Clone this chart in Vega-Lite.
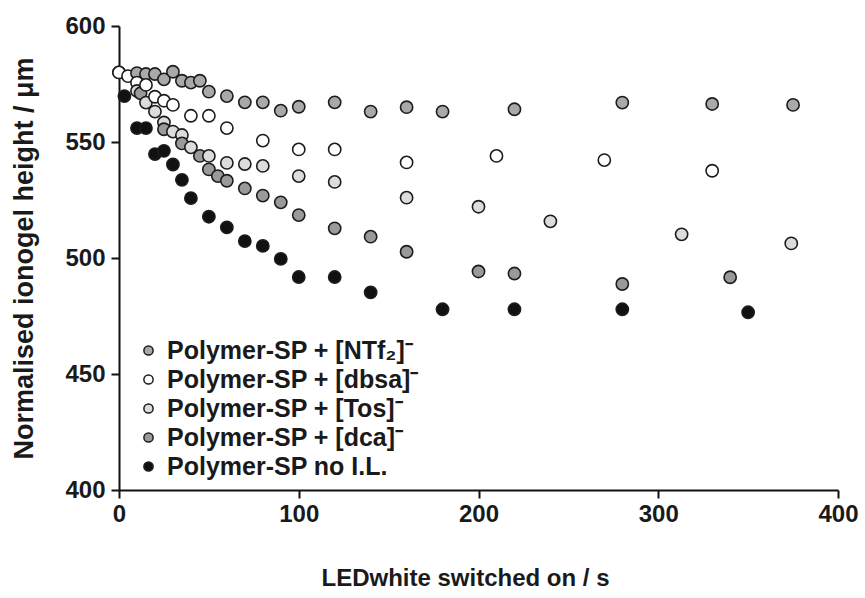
{
  "$schema": "https://vega.github.io/schema/vega-lite/v6.json",
  "width": 719,
  "height": 464,
  "autosize": {"type": "none"},
  "padding": {"left": 119, "top": 26, "right": 27, "bottom": 108},
  "background": "white",
  "config": {
    "view": {"stroke": null},
    "font": "Liberation Sans",
    "axis": {
      "grid": false,
      "domainColor": "#111",
      "domainWidth": 2,
      "tickColor": "#111",
      "tickWidth": 2,
      "tickSize": 8,
      "labelFont": "Liberation Sans",
      "labelFontSize": 24,
      "labelFontWeight": "bold",
      "labelColor": "#1a1a1a",
      "titleFont": "Liberation Sans",
      "titleFontSize": 24,
      "titleFontWeight": "bold",
      "titleColor": "#1a1a1a"
    }
  },
  "data": {
    "values": [
      {"series": "NTf2", "t": 0, "h": 580},
      {"series": "NTf2", "t": 10, "h": 579.7},
      {"series": "NTf2", "t": 15, "h": 579.3},
      {"series": "NTf2", "t": 20, "h": 579.3},
      {"series": "NTf2", "t": 25, "h": 577},
      {"series": "NTf2", "t": 30, "h": 580.3},
      {"series": "NTf2", "t": 35, "h": 576.4},
      {"series": "NTf2", "t": 40, "h": 575.6},
      {"series": "NTf2", "t": 45, "h": 576.4},
      {"series": "NTf2", "t": 50, "h": 571.7},
      {"series": "NTf2", "t": 60, "h": 569.8},
      {"series": "NTf2", "t": 70, "h": 567.1},
      {"series": "NTf2", "t": 80, "h": 567.1},
      {"series": "NTf2", "t": 90, "h": 563.5},
      {"series": "NTf2", "t": 100, "h": 565.2},
      {"series": "NTf2", "t": 120, "h": 567.1},
      {"series": "NTf2", "t": 140, "h": 563.1},
      {"series": "NTf2", "t": 160, "h": 565},
      {"series": "NTf2", "t": 180, "h": 563.1},
      {"series": "NTf2", "t": 220, "h": 564.1},
      {"series": "NTf2", "t": 280, "h": 567},
      {"series": "NTf2", "t": 330, "h": 566.4},
      {"series": "NTf2", "t": 375, "h": 566},
      {"series": "dbsa", "t": 0, "h": 580},
      {"series": "dbsa", "t": 5, "h": 578.4},
      {"series": "dbsa", "t": 10, "h": 575.6},
      {"series": "dbsa", "t": 15, "h": 574.6},
      {"series": "dbsa", "t": 20, "h": 569.5},
      {"series": "dbsa", "t": 25, "h": 567.8},
      {"series": "dbsa", "t": 30, "h": 566},
      {"series": "dbsa", "t": 40, "h": 561.3},
      {"series": "dbsa", "t": 50, "h": 561.3},
      {"series": "dbsa", "t": 60, "h": 556},
      {"series": "dbsa", "t": 80, "h": 550.6},
      {"series": "dbsa", "t": 100, "h": 546.8},
      {"series": "dbsa", "t": 120, "h": 546.8},
      {"series": "dbsa", "t": 160, "h": 541.2},
      {"series": "dbsa", "t": 210, "h": 544},
      {"series": "dbsa", "t": 270, "h": 542.2},
      {"series": "dbsa", "t": 330, "h": 537.6},
      {"series": "Tos", "t": 10, "h": 572},
      {"series": "Tos", "t": 15, "h": 567},
      {"series": "Tos", "t": 20, "h": 563.1},
      {"series": "Tos", "t": 25, "h": 558.4},
      {"series": "Tos", "t": 30, "h": 554.5},
      {"series": "Tos", "t": 35, "h": 553},
      {"series": "Tos", "t": 40, "h": 547.7},
      {"series": "Tos", "t": 50, "h": 544},
      {"series": "Tos", "t": 60, "h": 541},
      {"series": "Tos", "t": 70, "h": 540.5},
      {"series": "Tos", "t": 80, "h": 539.7},
      {"series": "Tos", "t": 100, "h": 535.3},
      {"series": "Tos", "t": 120, "h": 532.8},
      {"series": "Tos", "t": 160, "h": 526},
      {"series": "Tos", "t": 200, "h": 522.1},
      {"series": "Tos", "t": 240, "h": 515.8},
      {"series": "Tos", "t": 313, "h": 510.2},
      {"series": "Tos", "t": 374, "h": 506.3},
      {"series": "dca", "t": 12, "h": 571},
      {"series": "dca", "t": 25, "h": 555.5},
      {"series": "dca", "t": 35, "h": 549.4},
      {"series": "dca", "t": 45, "h": 544},
      {"series": "dca", "t": 50, "h": 538.2},
      {"series": "dca", "t": 55, "h": 535.3},
      {"series": "dca", "t": 60, "h": 533.3},
      {"series": "dca", "t": 70, "h": 530},
      {"series": "dca", "t": 80, "h": 526.9},
      {"series": "dca", "t": 90, "h": 524},
      {"series": "dca", "t": 100, "h": 518.5},
      {"series": "dca", "t": 120, "h": 512.8},
      {"series": "dca", "t": 140, "h": 509.2},
      {"series": "dca", "t": 160, "h": 502.7},
      {"series": "dca", "t": 200, "h": 494.2},
      {"series": "dca", "t": 220, "h": 493.3},
      {"series": "dca", "t": 280, "h": 488.8},
      {"series": "dca", "t": 340, "h": 491.7},
      {"series": "none", "t": 3, "h": 569.8},
      {"series": "none", "t": 10, "h": 556},
      {"series": "none", "t": 15, "h": 556},
      {"series": "none", "t": 20, "h": 544.8},
      {"series": "none", "t": 25, "h": 546.2},
      {"series": "none", "t": 30, "h": 540.3},
      {"series": "none", "t": 35, "h": 533.7},
      {"series": "none", "t": 40, "h": 525.8},
      {"series": "none", "t": 50, "h": 517.8},
      {"series": "none", "t": 60, "h": 513.2},
      {"series": "none", "t": 70, "h": 507.3},
      {"series": "none", "t": 80, "h": 505.2},
      {"series": "none", "t": 90, "h": 499.6},
      {"series": "none", "t": 100, "h": 491.8},
      {"series": "none", "t": 120, "h": 491.8},
      {"series": "none", "t": 140, "h": 485.2},
      {"series": "none", "t": 180, "h": 477.9},
      {"series": "none", "t": 220, "h": 477.9},
      {"series": "none", "t": 280, "h": 477.9},
      {"series": "none", "t": 350, "h": 476.6}
    ]
  },
  "mark": {"type": "point", "shape": "circle", "filled": true, "size": 150, "stroke": "#1c1c1c", "strokeWidth": 1.6, "opacity": 1},
  "encoding": {
    "x": {
      "field": "t", "type": "quantitative",
      "scale": {"domain": [0, 400], "nice": false, "zero": false},
      "axis": {"values": [0, 100, 200, 300, 400], "title": "LEDwhite switched on / s", "labelPadding": 4, "titlePadding": 40, "titleX": 346, "labelFlush": false}
    },
    "y": {
      "field": "h", "type": "quantitative",
      "scale": {"domain": [400, 600], "nice": false, "zero": false},
      "axis": {"values": [400, 450, 500, 550, 600], "title": "Normalised ionogel height / μm", "titleFontSize": 27, "labelPadding": 6, "titlePadding": 26, "labelFlush": false}
    },
    "color": {
      "field": "series", "type": "nominal",
      "scale": {
        "domain": ["NTf2", "dbsa", "Tos", "dca", "none"],
        "range": ["#a9a9a9", "#ffffff", "#dcdcdc", "#9a9a9a", "#111111"]
      },
      "legend": {
        "title": null,
        "orient": "none",
        "legendX": 17,
        "legendY": 312,
        "padding": 0,
        "symbolType": "circle",
        "symbolSize": 85,
        "symbolStrokeColor": "#1c1c1c",
        "symbolStrokeWidth": 1.5,
        "symbolOpacity": 1,
        "labelFont": "Liberation Sans",
        "labelFontSize": 25,
        "labelFontWeight": "bold",
        "labelColor": "#1a1a1a",
        "labelOffset": 6,
        "rowPadding": 3,
        "labelLimit": 400,
        "labelExpr": "datum.value == 'NTf2' ? 'Polymer-SP + [NTf₂]⁻' : datum.value == 'dbsa' ? 'Polymer-SP + [dbsa]⁻' : datum.value == 'Tos' ? 'Polymer-SP + [Tos]⁻' : datum.value == 'dca' ? 'Polymer-SP + [dca]⁻' : 'Polymer-SP no I.L.'"
      }
    },
    "order": {"field": "t", "type": "quantitative"}
  }
}
